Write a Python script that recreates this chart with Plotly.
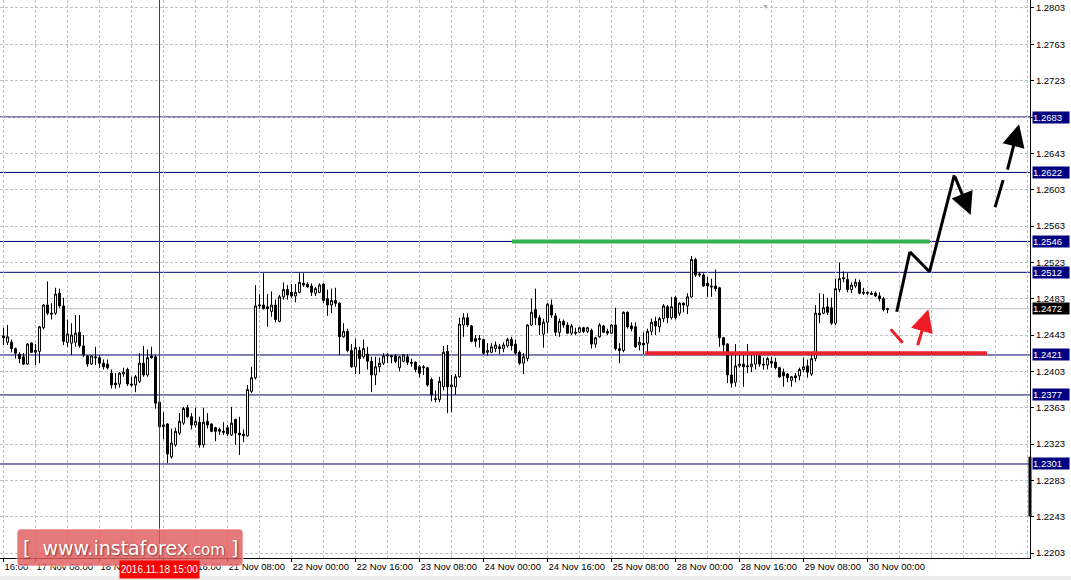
import plotly.graph_objects as go

# ---------------- data ----------------
OPEN = [
1.2442,1.2435,1.2435,1.2428,1.2422,1.2419,1.2411,1.2434,1.2424,1.2425,
1.2451,1.2476,1.2467,1.2467,1.2489,1.2475,1.2435,1.2434,1.2435,1.2446,
1.2431,1.2420,1.2411,1.2419,1.2418,1.2412,1.2411,1.2401,1.2390,1.2389,
1.2400,1.2405,1.2389,1.2388,1.2392,1.2412,1.2399,1.2420,1.2419,1.2369,
1.2342,1.2345,1.2309,1.2322,1.2335,1.2346,1.2363,1.2353,1.2344,1.2347,
1.2322,1.2348,1.2345,1.2341,1.2339,1.2337,1.2341,1.2333,1.2350,1.2335,
1.2334,1.2332,1.2381,1.2396,1.2475,1.2476,1.2474,1.2469,1.2476,1.2458,
1.2485,1.2493,1.2490,1.2486,1.2490,1.2500,1.2499,1.2497,1.2489,1.2490,
1.2499,1.2483,1.2476,1.2481,1.2478,1.2441,1.2447,1.2426,1.2408,1.2426,
1.2419,1.2422,1.2414,1.2399,1.2408,1.2412,1.2421,1.2419,1.2420,1.2407,
1.2414,1.2419,1.2413,1.2413,1.2408,1.2408,1.2407,1.2394,1.2373,1.2372,
1.2386,1.2425,1.2386,1.2386,1.2397,1.2454,1.2462,1.2453,1.2439,1.2438,
1.2438,1.2424,1.2424,1.2428,1.2430,1.2428,1.2431,1.2438,1.2433,1.2424,
1.2412,1.2417,1.2454,1.2471,1.2462,1.2444,1.2457,1.2476,1.2464,1.2446,
1.2458,1.2454,1.2445,1.2446,1.2446,1.2451,1.2447,1.2448,1.2433,1.2441,
1.2453,1.2447,1.2445,1.2454,1.2428,1.2426,1.2468,1.2453,1.2452,1.2432,
1.2434,1.2434,1.2447,1.2458,1.2452,1.2461,1.2474,1.2462,1.2484,1.2467,
1.2478,1.2475,1.2485,1.2526,1.2509,1.2509,1.2500,1.2497,1.2497,1.2495,
1.2440,1.2433,1.2399,1.2391,1.2409,1.2411,1.2408,1.2408,1.2411,1.2420,
1.2411,1.2410,1.2414,1.2413,1.2407,1.2402,1.2400,1.2393,1.2398,1.2398,
1.2405,1.2409,1.2400,1.2417,1.2467,1.2467,1.2474,1.2473,1.2456,1.2493,
1.2505,1.2504,1.2493,1.2497,1.2501,1.2489,1.2490,1.2489,1.2489,1.2486,
1.2483,1.2471]

HIGH = [
1.2451,1.2454,1.2438,1.2429,1.2424,1.2423,1.2434,1.2435,1.2433,1.2453,
1.2477,1.2502,1.2478,1.2495,1.2494,1.2484,1.2460,1.2456,1.2465,1.2465,
1.2443,1.2421,1.2421,1.2430,1.2421,1.2416,1.2416,1.2405,1.2401,1.2402,
1.2407,1.2407,1.2397,1.2399,1.2423,1.2431,1.2427,1.2430,1.2421,1.2372,
1.2358,1.2346,1.2340,1.2341,1.2357,1.2364,1.2366,1.2357,1.2363,1.2353,
1.2363,1.2357,1.2346,1.2342,1.2341,1.2347,1.2344,1.2364,1.2351,1.2353,
1.2339,1.2388,1.2408,1.2498,1.2488,1.2511,1.2488,1.2491,1.2482,1.2487,
1.2501,1.2498,1.2499,1.2499,1.2511,1.2511,1.2501,1.2500,1.2496,1.2500,
1.2500,1.2493,1.2494,1.2495,1.2479,1.2456,1.2450,1.2433,1.2439,1.2430,
1.2438,1.2430,1.2419,1.2419,1.2418,1.2423,1.2423,1.2421,1.2422,1.2420,
1.2422,1.2422,1.2417,1.2414,1.2410,1.2410,1.2408,1.2396,1.2382,1.2397,
1.2431,1.2432,1.2399,1.2400,1.2462,1.2467,1.2467,1.2454,1.2443,1.2443,
1.2439,1.2434,1.2434,1.2436,1.2433,1.2435,1.2440,1.2441,1.2438,1.2426,
1.2423,1.2455,1.2483,1.2494,1.2465,1.2461,1.2478,1.2482,1.2467,1.2461,
1.2460,1.2457,1.2455,1.2451,1.2452,1.2452,1.2452,1.2450,1.2441,1.2456,
1.2454,1.2450,1.2455,1.2473,1.2434,1.2469,1.2469,1.2457,1.2457,1.2441,
1.2446,1.2450,1.2461,1.2463,1.2463,1.2477,1.2476,1.2485,1.2486,1.2479,
1.2479,1.2489,1.2530,1.2528,1.2512,1.2511,1.2507,1.2505,1.2515,1.2496,
1.2441,1.2434,1.2424,1.2433,1.2421,1.2423,1.2433,1.2424,1.2424,1.2424,
1.2418,1.2419,1.2419,1.2418,1.2408,1.2406,1.2401,1.2398,1.2401,1.2407,
1.2418,1.2416,1.2423,1.2476,1.2489,1.2488,1.2484,1.2484,1.2505,1.2523,
1.2513,1.2511,1.2501,1.2505,1.2504,1.2495,1.2491,1.2491,1.2491,1.2490,
1.2485,1.2473]

LOW = [
1.2432,1.2432,1.2424,1.2417,1.2412,1.2410,1.2410,1.2423,1.2410,1.2412,
1.2449,1.2465,1.2460,1.2465,1.2473,1.2432,1.2430,1.2421,1.2430,1.2429,
1.2419,1.2408,1.2410,1.2410,1.2407,1.2405,1.2405,1.2384,1.2384,1.2385,
1.2397,1.2387,1.2386,1.2380,1.2390,1.2397,1.2397,1.2417,1.2362,1.2336,
1.2328,1.2302,1.2307,1.2320,1.2333,1.2344,1.2352,1.2339,1.2341,1.2319,
1.2319,1.2340,1.2336,1.2326,1.2333,1.2333,1.2332,1.2332,1.2322,1.2311,
1.2325,1.2331,1.2379,1.2394,1.2472,1.2471,1.2452,1.2463,1.2457,1.2457,
1.2482,1.2482,1.2484,1.2479,1.2489,1.2496,1.2495,1.2486,1.2486,1.2489,
1.2478,1.2464,1.2467,1.2474,1.2421,1.2440,1.2424,1.2407,1.2400,1.2400,
1.2417,1.2405,1.2380,1.2388,1.2402,1.2410,1.2412,1.2412,1.2412,1.2403,
1.2413,1.2410,1.2408,1.2402,1.2396,1.2399,1.2386,1.2370,1.2369,1.2369,
1.2382,1.2357,1.2358,1.2377,1.2396,1.2441,1.2452,1.2435,1.2430,1.2429,
1.2421,1.2420,1.2423,1.2424,1.2422,1.2424,1.2429,1.2426,1.2421,1.2410,
1.2400,1.2414,1.2453,1.2454,1.2443,1.2429,1.2445,1.2462,1.2442,1.2441,
1.2451,1.2444,1.2443,1.2443,1.2445,1.2445,1.2445,1.2428,1.2429,1.2440,
1.2445,1.2443,1.2444,1.2426,1.2412,1.2424,1.2450,1.2447,1.2429,1.2426,
1.2422,1.2423,1.2443,1.2443,1.2446,1.2457,1.2456,1.2460,1.2460,1.2464,
1.2468,1.2466,1.2484,1.2507,1.2507,1.2496,1.2485,1.2485,1.2491,1.2430,
1.2421,1.2390,1.2385,1.2386,1.2407,1.2386,1.2401,1.2402,1.2405,1.2408,
1.2405,1.2405,1.2407,1.2405,1.2396,1.2386,1.2391,1.2386,1.2391,1.2393,
1.2402,1.2396,1.2398,1.2414,1.2456,1.2466,1.2465,1.2454,1.2454,1.2490,
1.2501,1.2490,1.2489,1.2495,1.2488,1.2487,1.2487,1.2487,1.2485,1.2480,
1.2469,1.2467]

CLOSE = [
1.2440,1.2441,1.2428,1.2423,1.2417,1.2411,1.2433,1.2424,1.2426,1.2452,
1.2476,1.2467,1.2466,1.2488,1.2475,1.2436,1.2444,1.2443,1.2445,1.2431,
1.2421,1.2411,1.2420,1.2418,1.2412,1.2408,1.2407,1.2388,1.2388,1.2401,
1.2402,1.2389,1.2388,1.2397,1.2412,1.2399,1.2418,1.2418,1.2368,1.2342,
1.2344,1.2312,1.2324,1.2337,1.2348,1.2362,1.2353,1.2344,1.2348,1.2322,
1.2347,1.2344,1.2337,1.2337,1.2337,1.2336,1.2334,1.2346,1.2335,1.2333,
1.2332,1.2383,1.2396,1.2475,1.2476,1.2472,1.2472,1.2476,1.2460,1.2485,
1.2493,1.2487,1.2486,1.2490,1.2501,1.2498,1.2496,1.2490,1.2494,1.2498,
1.2481,1.2476,1.2481,1.2478,1.2441,1.2447,1.2426,1.2408,1.2429,1.2417,
1.2428,1.2414,1.2399,1.2408,1.2412,1.2420,1.2420,1.2420,1.2414,1.2419,
1.2421,1.2413,1.2412,1.2405,1.2401,1.2407,1.2388,1.2377,1.2372,1.2392,
1.2424,1.2386,1.2388,1.2397,1.2455,1.2462,1.2454,1.2436,1.2436,1.2439,
1.2423,1.2426,1.2430,1.2432,1.2428,1.2432,1.2438,1.2431,1.2423,1.2412,
1.2419,1.2454,1.2468,1.2462,1.2454,1.2457,1.2477,1.2465,1.2446,1.2458,
1.2454,1.2445,1.2453,1.2445,1.2451,1.2447,1.2451,1.2433,1.2440,1.2454,
1.2446,1.2445,1.2454,1.2428,1.2426,1.2468,1.2452,1.2450,1.2430,1.2435,
1.2432,1.2447,1.2457,1.2453,1.2461,1.2475,1.2462,1.2474,1.2462,1.2478,
1.2476,1.2485,1.2526,1.2509,1.2510,1.2497,1.2497,1.2496,1.2494,1.2440,
1.2432,1.2399,1.2390,1.2409,1.2411,1.2408,1.2409,1.2411,1.2423,1.2411,
1.2410,1.2417,1.2412,1.2407,1.2397,1.2398,1.2396,1.2397,1.2396,1.2405,
1.2408,1.2402,1.2417,1.2467,1.2465,1.2473,1.2468,1.2456,1.2494,1.2505,
1.2506,1.2493,1.2498,1.2501,1.2489,1.2490,1.2489,1.2488,1.2486,1.2483,
1.2471,1.2472]

# time-axis labels (bar index -> label)
LABEL_IDX = [0, 8, 24, 40, 56, 72, 88, 104, 120, 136, 152, 168, 184, 200, 216]
LABELS = ["16:00", "17 Nov 08:00", "18 Nov 00:00", "18 Nov 16:00", "21 Nov 08:00",
          "22 Nov 00:00", "22 Nov 16:00", "23 Nov 08:00", "24 Nov 00:00",
          "24 Nov 16:00", "25 Nov 08:00", "28 Nov 00:00", "28 Nov 16:00",
          "29 Nov 08:00", "30 Nov 00:00"]
Y_TICKS = [1.2203, 1.2243, 1.2283, 1.2323, 1.2363, 1.2403, 1.2443, 1.2483,
           1.2523, 1.2563, 1.2603, 1.2643, 1.2683, 1.2723, 1.2763, 1.2803]

LEVELS = [1.2683, 1.2622, 1.2546, 1.2512, 1.2421, 1.2377, 1.2301]
LAST_PRICE = 1.2472
CROSS_IDX = 39
CROSS_LABEL = "2016.11.18 15:00"

RESIST_X = [127.1, 231.6]; RESIST_Y = 1.2546
SUPPORT_X = [160.4, 245.9]; SUPPORT_Y = 1.2423

PATH_X = [223.3, 226.6, 231.5, 237.7]
PATH_Y = [1.24686, 1.25346, 1.25126, 1.2619]
PATH_TIP = (241.8, 1.2575)
DASH_X = [247.9, 249.9]; DASH_Y = [1.25838, 1.26135]
DASH_ARROW = ((250.9, 1.26234), (253.9, 1.26751))
RED_SEG_X = [221.8, 224.8]; RED_SEG_Y = [1.24493, 1.24345]
RED_ARROW = ((228.45, 1.24301), (231.2, 1.24713))

# ---------------- figure ----------------
NAVY = "#00006e"
GRID = "#c0c0c0"
FONT = "Liberation Sans"


def px(xp):
    return xp / 1030.0


def py(yp):
    return 1 - yp / 558.0


idx = list(range(len(CLOSE)))
fig = go.Figure(go.Candlestick(
    x=idx, open=OPEN, high=HIGH, low=LOW, close=CLOSE,
    increasing=dict(line=dict(color="black", width=1), fillcolor="white"),
    decreasing=dict(line=dict(color="black", width=1), fillcolor="black"),
    whiskerwidth=0, hoverinfo="skip", showlegend=False))

shapes = []
for v in LEVELS:
    shapes.append(dict(type="line", xref="paper", x0=0, x1=1, yref="y", y0=v, y1=v,
                       line=dict(color=NAVY, width=1), layer="between"))
shapes.append(dict(type="line", xref="paper", x0=0, x1=1, yref="y", y0=LAST_PRICE, y1=LAST_PRICE,
                   line=dict(color="#c0c0c0", width=1), layer="between"))
shapes.append(dict(type="line", xref="x", x0=CROSS_IDX, x1=CROSS_IDX, yref="paper", y0=0, y1=1,
                   line=dict(color="#e00000", width=1), layer="above"))
shapes.append(dict(type="line", xref="x", x0=RESIST_X[0], x1=RESIST_X[1], yref="y",
                   y0=RESIST_Y, y1=RESIST_Y, line=dict(color="#34b24c", width=4), layer="above"))
shapes.append(dict(type="line", xref="x", x0=SUPPORT_X[0], x1=SUPPORT_X[1], yref="y",
                   y0=SUPPORT_Y, y1=SUPPORT_Y, line=dict(color="#e8242e", width=4), layer="above"))
for i in range(len(PATH_X) - 1):
    shapes.append(dict(type="line", xref="x", yref="y", x0=PATH_X[i], y0=PATH_Y[i],
                       x1=PATH_X[i + 1], y1=PATH_Y[i + 1], line=dict(color="black", width=3), layer="above"))
shapes.append(dict(type="line", xref="x", yref="y", x0=DASH_X[0], y0=DASH_Y[0], x1=DASH_X[1], y1=DASH_Y[1],
                   line=dict(color="black", width=3), layer="above"))
shapes.append(dict(type="line", xref="x", yref="y", x0=RED_SEG_X[0], y0=RED_SEG_Y[0], x1=RED_SEG_X[1], y1=RED_SEG_Y[1],
                   line=dict(color="#ee1c24", width=3), layer="above"))
shapes.append(dict(type="rect", xref="paper", x0=px(1028.5), x1=px(1031.5), yref="y",
                   y0=1.2243, y1=1.2309, fillcolor="black", line=dict(width=0), layer="above"))
# window bottom strip
shapes.append(dict(type="rect", xref="paper", x0=-0.01, x1=1.05, yref="paper", y0=py(576), y1=py(581),
                   fillcolor="#ececec", line=dict(width=0), layer="below"))

lx0, lx1, ly0, ly1, r = 17, 243, 529, 566, 4
path = (f"M {px(lx0 + r)},{py(ly0)} L {px(lx1 - r)},{py(ly0)} Q {px(lx1)},{py(ly0)} {px(lx1)},{py(ly0 + r)} "
        f"L {px(lx1)},{py(ly1 - r)} Q {px(lx1)},{py(ly1)} {px(lx1 - r)},{py(ly1)} "
        f"L {px(lx0 + r)},{py(ly1)} Q {px(lx0)},{py(ly1)} {px(lx0)},{py(ly1 - r)} "
        f"L {px(lx0)},{py(ly0 + r)} Q {px(lx0)},{py(ly0)} {px(lx0 + r)},{py(ly0)} Z")
shapes.append(dict(type="path", xref="paper", yref="paper", path=path,
                   fillcolor="rgba(224,92,92,0.82)", line=dict(color="rgba(255,255,255,0.6)", width=1),
                   layer="above"))

annotations = []


def arrow(tail, tip, color):
    return dict(x=tip[0], y=tip[1], ax=tail[0], ay=tail[1], xref="x", yref="y", axref="x", ayref="y",
                text="", showarrow=True, arrowhead=2, arrowsize=1.5, arrowwidth=3, arrowcolor=color,
                standoff=0, startstandoff=0)


annotations.append(arrow((PATH_X[-1], PATH_Y[-1]), PATH_TIP, "black"))
annotations.append(arrow(DASH_ARROW[0], DASH_ARROW[1], "black"))
annotations.append(arrow(RED_ARROW[0], RED_ARROW[1], "#ee1c24"))

for v in LEVELS:
    annotations.append(dict(xref="paper", x=1, xanchor="left", xshift=2, yref="y", y=v, yanchor="middle",
                            text=f"{v:.4f}", showarrow=False, bgcolor="#000080", width=36, height=11,
                            align="left", borderpad=0,
                            font=dict(family=FONT, size=9.5, color="white")))
annotations.append(dict(xref="paper", x=1, xanchor="left", xshift=2, yref="y", y=LAST_PRICE, yanchor="middle",
                        text=f"{LAST_PRICE:.4f}", showarrow=False, bgcolor="black", width=36, height=11,
                        align="left", borderpad=0, font=dict(family=FONT, size=9.5, color="white")))
annotations.append(dict(xref="x", x=CROSS_IDX, yref="paper", y=0, yanchor="top", yshift=-2,
                        text=CROSS_LABEL, showarrow=False, bgcolor="#ff0000", width=77, height=15,
                        font=dict(family=FONT, size=10, color="white")))
annotations.append(dict(xref="x", x=190.4, yref="paper", y=1, yanchor="top", text="▼", showarrow=False,
                        font=dict(size=7, color="#b0b0b0")))
annotations.append(dict(xref="paper", yref="paper", x=px(130), y=py(547.5), xanchor="center", yanchor="middle",
                        text="[  www.instaforex<span style='font-size:15px'>.com</span> ]", showarrow=False,
                        font=dict(family="DejaVu Sans", size=19, color="white",
                                  shadow="1px 1px 2px rgba(80,0,0,0.6)")))

# the plain tick text is hidden where a highlighted level label sits on top of it
y_text = ["" if any(abs(t - v) < 1e-6 for v in LEVELS) else f"{t:.4f}" for t in Y_TICKS]

fig.update_layout(
    width=1071, height=580,
    margin=dict(l=0, r=41, t=0, b=22, pad=0),
    paper_bgcolor="white", plot_bgcolor="white",
    showlegend=False,
    shapes=shapes, annotations=annotations,
    xaxis=dict(range=[-0.875, 256.625], rangeslider=dict(visible=False), tickmode="array",
               tickvals=LABEL_IDX, ticktext=LABELS, ticks="outside", ticklen=3, tickcolor="black",
               tickangle=0, ticklabelposition="outside right", showgrid=False, zeroline=False,
               showline=True, linecolor="black", linewidth=1,
               tickfont=dict(family=FONT, size=9.5, color="black"),
               minor=dict(tickmode="linear", tick0=0, dtick=8, showgrid=True, gridcolor=GRID,
                          griddash="3px,2px", gridwidth=1, ticks="")),
    yaxis=dict(side="right", range=[1.21975, 1.28118], tickmode="array", tickvals=Y_TICKS,
               ticktext=y_text, ticks="outside", ticklen=3, tickcolor="black",
               showgrid=True, gridcolor=GRID, griddash="3px,2px", gridwidth=1, zeroline=False,
               showline=True, linecolor="black", linewidth=1,
               tickfont=dict(family=FONT, size=9.5, color="black")),
)

fig.write_html("out.html", config={"displayModeBar": False},
               post_script="document.body.style.margin='0';document.body.style.overflow='hidden';")
